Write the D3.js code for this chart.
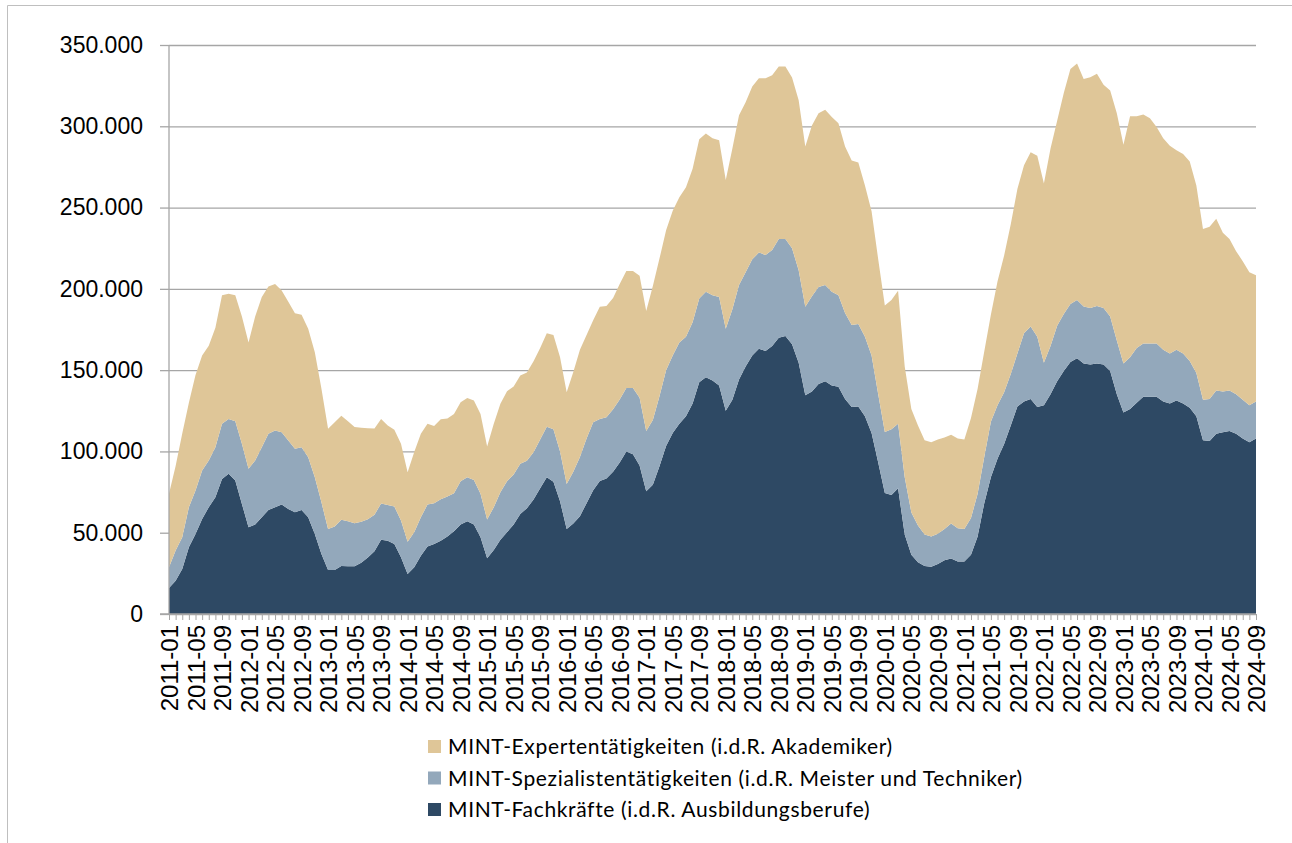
<!DOCTYPE html>
<html>
<head>
<meta charset="utf-8">
<script src="https://cdn.jsdelivr.net/npm/d3@7"></script>
<style>
  body { margin: 0; background: #fff; }
  svg { display: block; }
</style>
</head>
<body>
<svg id="chart" width="1292" height="843"></svg>
<script>
// Monatswerte in Tausend, 2011-01 bis 2024-09
const months = [];
for (let yr = 2011; yr <= 2024; yr++) {
    for (let m = 1; m <= 12; m++) {
        if (yr === 2024 && m > 9) break;
        months.push(yr + "-" + String(m).padStart(2, "0"));
    }
}

const fachkraefte = [
    16, 20.5, 27.7, 41, 49.2, 58.5, 65.7, 71.8, 83.1, 86.2, 82.1, 67.7,
    53.4, 55, 59.5, 64, 65.7, 67.3, 64.6, 62.6, 64, 59.5, 49.2, 36.9,
    27.1, 27.1, 29.5, 29.3, 29.3, 31.6, 34.7, 38.6, 45.6, 45.1, 43.1, 34.9,
    24.6, 28.7, 35.9, 41.5, 43.1, 45.1, 47.6, 50.9, 55, 57, 55, 47.2,
    34.3, 39.4, 45.6, 50.3, 55, 61.5, 65, 70.5, 77.3, 84.1, 81.4, 69.3,
    52.3, 55.7, 60.2, 68.2, 76.1, 81.8, 83.4, 87.5, 93.2, 100, 98.2, 91.4,
    75.5, 79.5, 90.9, 103.4, 111.4, 117, 121.6, 129.5, 142.5, 145.7, 143.6, 140.5,
    125, 131.8, 144.3, 152.3, 159, 163.2, 161.8, 164.8, 170, 171, 166, 154.5,
    134.5, 136.8, 141.4, 143.2, 140.5, 139.8, 132.3, 127.3, 127.7, 121.6, 111.4, 93.2,
    74.5, 73.2, 77.3, 48.9, 36.4, 31.8, 29.5, 29.1, 30.7, 33, 34.1, 32.3,
    32.3, 36.4, 47.7, 68.2, 84.1, 95.5, 104.5, 115.9, 127.7, 130.7, 132.3, 127.3,
    128.4, 135.2, 143.2, 149.5, 155, 157.3, 154.1, 153.4, 154.1, 153.4, 149.5, 135.2,
    123.9, 126.1, 130, 133.6, 133.6, 133.6, 130.7, 129.5, 131.4, 129.5, 126.8, 121.6,
    106.8, 106.4, 110.9, 111.8, 112.5, 110.9, 108, 105.7, 108
];

const spezialisten = [
    12.7, 18.5, 19.5, 24.7, 26.7, 29.7, 28.7, 30.8, 33.9, 33.8, 36.5, 37,
    35.9, 39.4, 43.1, 46.8, 47.2, 44.5, 42.1, 39, 38.6, 36.9, 34.9, 31.8,
    25.2, 26.7, 28.4, 27.7, 26.5, 25.2, 23.6, 22.5, 22.3, 22, 23, 22.6,
    19.9, 21.6, 23.6, 25.8, 25, 25.5, 24.6, 23.4, 26.7, 27.1, 27.5, 26.7,
    23.8, 26.3, 29.3, 31.4, 30.8, 30.9, 29.3, 29, 30, 31.1, 32.2, 30.7,
    27.7, 31.8, 36.4, 39.8, 41.9, 38.2, 37.6, 38.5, 38.8, 39, 40.8, 41.6,
    37, 39.8, 43.1, 46.6, 47.6, 50, 48.9, 50, 51.5, 52.5, 52.4, 54.5,
    50.5, 55.7, 58, 57.9, 59.2, 59.1, 59.1, 59.1, 60.7, 59.7, 59, 56.9,
    54.5, 58.7, 59.7, 59.1, 57.7, 56.2, 52.9, 50.4, 50.7, 48.9, 47.6, 42,
    37.5, 40.4, 39.7, 35.2, 26.1, 22.7, 19.4, 18.6, 18.6, 19.3, 21.6, 20.4,
    20, 22.7, 26.2, 28.4, 34.1, 32.9, 31.9, 31.8, 32.5, 42, 44.5, 43.2,
    26.1, 29.6, 34.1, 35, 35.7, 35.9, 35, 34.8, 35.4, 34.8, 33.5, 33,
    30.2, 31.9, 33.6, 32.8, 32.8, 32.8, 31.8, 30.7, 31.1, 30.7, 28.9, 26.6,
    25, 25.9, 26.6, 25, 25, 24.3, 23.8, 22.7, 22.7
];

const experten = [
    45.2, 52, 63.8, 64.3, 71.1, 70.8, 70.6, 73.4, 79, 77, 77.4, 78.3,
    77.7, 88.6, 92.4, 90.7, 90.1, 87.2, 85.3, 83.4, 81.4, 79.1, 76.9, 69.8,
    61.7, 64.2, 64.1, 61.6, 59.3, 57.7, 56, 53, 52.1, 48.9, 47.2, 47.2,
    42.7, 49.3, 51.3, 49.7, 47.6, 49.2, 48, 48.8, 48.6, 48.7, 48.8, 49.2,
    44.9, 51.3, 54.4, 55.3, 54.2, 54.3, 54.3, 56, 56.3, 57.5, 58, 58,
    56.4, 61.4, 65.9, 63.6, 62.7, 69, 68.5, 68.3, 71, 72, 72, 75,
    73.9, 82.5, 84.6, 86, 89, 89.4, 92, 94.4, 98, 97.3, 96.7, 96.4,
    91.5, 98.9, 104.5, 104.6, 106.3, 107.2, 108.6, 107.5, 106.1, 106.1, 105, 104.6,
    98.5, 105, 106.9, 107.9, 107.5, 105.8, 102.3, 101.3, 99.3, 93.1, 88.7, 83,
    77.8, 79.6, 81.9, 68.2, 63.6, 61.5, 57.9, 58, 58, 56.3, 54.5, 55.3,
    55, 61.4, 64.7, 64.8, 65.9, 76.1, 84.1, 92.1, 101.2, 103.4, 107.2, 111.3,
    110.3, 121.6, 126.1, 136, 144.5, 145.4, 140, 142, 142.8, 137.3, 139, 139.8,
    134.5, 148.1, 142.5, 140.9, 138.6, 133.1, 130.2, 127.8, 122.7, 122.8, 122.7, 115.4,
    105, 105.9, 105.7, 97.7, 93.2, 88, 85.2, 81.8, 77.7
];

const seriesNames = [
    "MINT-Fachkräfte (i.d.R. Ausbildungsberufe)",
    "MINT-Spezialistentätigkeiten (i.d.R. Meister und Techniker)",
    "MINT-Expertentätigkeiten (i.d.R. Akademiker)"
];
const seriesColors = ["#2e4964", "#93a8bb", "#dfc698"];
const yTicks = [0, 50000, 100000, 150000, 200000, 250000, 300000, 350000];

const rows = months.map((m, i) => ({
    month: m,
    [seriesNames[0]]: fachkraefte[i] * 1000,
    [seriesNames[1]]: spezialisten[i] * 1000,
    [seriesNames[2]]: experten[i] * 1000
}));

const de = d3.formatLocale({ decimal: ",", thousands: ".", grouping: [3], currency: ["", " €"] });
const fmt = de.format(",");

const svg = d3.select("#chart");
const plot = { left: 169, right: 1256, top: 45, bottom: 614 };

// Rahmen
svg.append("path")
    .attr("d", "M7.5,843 V5.5 H1292")
    .attr("fill", "none")
    .attr("stroke", "#bfbfbf");

const x = d3.scalePoint().domain(months).range([plot.left, plot.right]);
const y = d3.scaleLinear().domain([0, 350000]).range([plot.bottom, plot.top]);

// Gitterlinien
svg.append("g")
    .attr("transform", `translate(${plot.left},0)`)
    .call(d3.axisLeft(y).tickValues(yTicks).tickSize(-(plot.right - plot.left)).tickFormat(""))
    .call(g => g.select(".domain").remove())
    .call(g => g.selectAll("line").attr("stroke", "#a6a6a6").attr("stroke-width", 1.3));

const stack = d3.stack().keys(seriesNames);
const layers = stack(rows);

const area = d3.area()
    .x(d => x(d.data.month))
    .y0(d => y(d[0]))
    .y1(d => y(d[1]));

svg.selectAll(".layer")
    .data(layers)
    .enter().append("path")
    .attr("class", "layer")
    .attr("d", area)
    .attr("fill", (d, i) => seriesColors[i]);

// y-Achse
svg.append("g")
    .attr("transform", `translate(${plot.left},0)`)
    .call(d3.axisLeft(y).tickValues(yTicks).tickSize(9).tickPadding(17).tickFormat(fmt))
    .call(g => g.select(".domain").attr("stroke", "#a6a6a6").attr("stroke-width", 1.3).attr("d", `M0,${plot.top}V${plot.bottom}`))
    .call(g => g.selectAll("line").attr("stroke", "#a6a6a6").attr("stroke-width", 1.3))
    .call(g => g.selectAll("text")
        .attr("fill", "#000")
        .style("font-family", "'Liberation Sans', Arial, sans-serif")
        .style("font-size", "23px"));

// x-Achse: Monatsstriche
svg.append("g")
    .attr("transform", `translate(0,${plot.bottom})`)
    .call(d3.axisBottom(x).tickSize(6).tickFormat(""))
    .call(g => g.select(".domain").attr("stroke", "#a6a6a6").attr("stroke-width", 1.3).attr("d", `M${plot.left - 9},0H${plot.right}`))
    .call(g => g.selectAll("line").attr("stroke", "#a6a6a6"));

// x-Achse: Beschriftung alle 4 Monate
svg.append("g")
    .attr("transform", `translate(0,${plot.bottom})`)
    .call(d3.axisBottom(x).tickValues(months.filter((m, i) => i % 4 === 0)).tickSize(0))
    .call(g => g.select(".domain").remove())
    .call(g => g.selectAll("text")
        .attr("fill", "#000")
        .attr("transform", "rotate(-90)")
        .attr("x", -11)
        .attr("y", 0)
        .attr("dy", "0.36em")
        .style("text-anchor", "end")
        .style("font-family", "'Liberation Sans', Arial, sans-serif")
        .style("font-size", "24px"));

// Legende
const legendOrder = [2, 1, 0];
const legend = svg.append("g").attr("transform", "translate(428,747)");
legendOrder.forEach((k, j) => {
    const row = legend.append("g").attr("transform", `translate(0,${j * 31.5})`);
    row.append("rect")
        .attr("x", 0).attr("y", -7)
        .attr("width", 13).attr("height", 13)
        .attr("fill", seriesColors[k]);
    row.append("text")
        .attr("x", 20).attr("y", 0)
        .attr("dy", "0.35em")
        .style("font-family", "Lato, 'Open Sans', sans-serif")
        .style("font-size", "21px")
        .style("letter-spacing", "0.65px")
        .attr("fill", "#000")
        .text(seriesNames[k]);
});
</script>
</body>
</html>
